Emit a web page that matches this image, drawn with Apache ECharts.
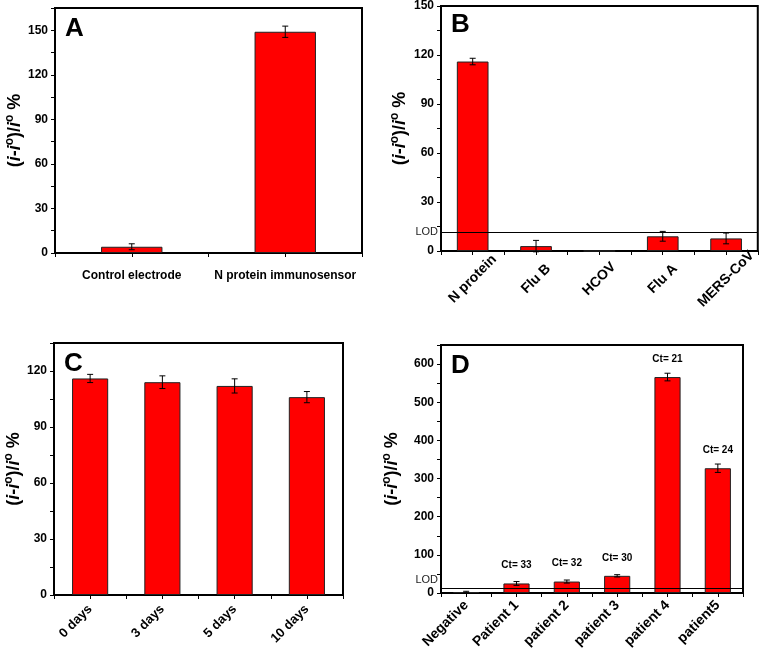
<!DOCTYPE html>
<html>
<head>
<meta charset="utf-8">
<script src="https://cdn.jsdelivr.net/npm/echarts@6/dist/echarts.min.js"></script>
<style>
html,body{margin:0;padding:0;background:#fff;}
#main{width:759px;height:652px;}
</style>
</head>
<body>
<div id="main"></div>
<script>
// panel A
var catA = ['Control electrode', 'N protein immunosensor'];
var valA = [4.2, 149];
var errA = [2, 3.8];
// panel B
var catB = ['N protein', 'Flu B', 'HCOV', 'Flu A', 'MERS-CoV'];
var valB = [116, 3, 0, 9, 7.7];
var errB = [2, 3.5, 0, 3, 3.3];
// panel C
var catC = ['0 days', '3 days', '5 days', '10 days'];
var valC = [116, 114, 112, 106];
var errC = [2.2, 3.4, 3.8, 3];
// panel D
var catD = ['Negative', 'Patient 1', 'patient 2', 'patient 3', 'patient 4', 'patient5'];
var valD = [2.5, 25, 30, 45, 566, 327];
var errD = [2, 5, 4, 3, 10, 11];
var ctD = ['', 'Ct= 33', 'Ct= 32', 'Ct= 30', 'Ct= 21', 'Ct= 24'];
var lodLevel = 11.5;

var FONT = '"Liberation Sans", Arial, sans-serif';
var chart = echarts.init(document.getElementById('main'));

var grids = [
	{left: 55, top: 8, width: 307, height: 245},
	{left: 441, top: 4, width: 317, height: 247},
	{left: 54, top: 343, width: 289, height: 252},
	{left: 441, top: 345, width: 302, height: 248}
];
// layout per panel
var panels = [
	{cats: catA, vals: valA, errs: errA, max: 165, step: 15, lab: 30, bw: '40%', gap: 24, letter: 'A',
		xl: {rotate: 0, margin: 17, fontSize: 12}},
	{cats: catB, vals: valB, errs: errB, max: 150, step: 15, lab: 30, bw: '50%', gap: 30, letter: 'B',
		xl: {rotate: 45, margin: 28, fontSize: 14, align: 'center', verticalAlign: 'middle'}, lod: 'LOD'},
	{cats: catC, vals: valC, errs: errC, max: 135, step: 15, lab: 30, bw: '50%', gap: 18, letter: 'C',
		xl: {rotate: 45, margin: 12, fontSize: 13}},
	{cats: catD, vals: valD, errs: errD, max: 650, step: 50, lab: 100, bw: '52%', gap: 38, letter: 'D',
		xl: {rotate: 45, margin: 10, fontSize: 14}, lod: 'LOD\n'}
];

var yName = '{p|(}{i|i}{p|-}{i|i}{s|o}{p|)/}{i|i}{s|o}{p| %}';
var yRich = {
	p: {fontFamily: FONT, fontWeight: 'bold', fontSize: 18, lineHeight: 22, color: '#000'},
	i: {fontFamily: FONT, fontWeight: 'bold', fontStyle: 'italic', fontSize: 18, lineHeight: 22, color: '#000'},
	s: {fontFamily: FONT, fontWeight: 'bold', fontSize: 12, lineHeight: 5, color: '#000', verticalAlign: 'top'}
};

var xAxes = [], yAxes = [], series = [], graphics = [];

function errRender(params, api) {
	var i = api.value(0), lo = api.value(1), hi = api.value(2);
	if (hi - lo <= 0) return null;
	var p1 = api.coord([i, lo]), p2 = api.coord([i, hi]);
	var st = {stroke: '#000', lineWidth: 1};
	return {
		type: 'group',
		children: [
			{type: 'line', shape: {x1: p1[0], y1: p1[1], x2: p2[0], y2: p2[1]}, style: st},
			{type: 'line', shape: {x1: p1[0] - 3, y1: p1[1], x2: p1[0] + 3, y2: p1[1]}, style: st},
			{type: 'line', shape: {x1: p2[0] - 3, y1: p2[1], x2: p2[0] + 3, y2: p2[1]}, style: st}
		]
	};
}

panels.forEach(function(pn, k) {
	var g = grids[k];
	g.show = true;
	g.borderColor = '#000';
	g.borderWidth = 2;
	g.backgroundColor = '#fff';

	var xl = {color: '#000', fontFamily: FONT, fontWeight: 'bold', interval: 0};
	for (var key in pn.xl) xl[key] = pn.xl[key];
	xAxes.push({
		type: 'category', gridIndex: k, data: pn.cats,
		axisLine: {lineStyle: {color: '#000', width: 2}},
		axisTick: {show: false},
		axisLabel: xl
	});
	yAxes.push({
		type: 'value', gridIndex: k, min: 0, max: pn.max, interval: pn.step,
		name: yName, nameLocation: 'middle', nameGap: pn.gap, nameRotate: 90,
		nameTextStyle: {rich: yRich},
		splitLine: {show: false},
		axisLine: {show: true, lineStyle: {color: '#000', width: 2}},
		axisTick: {show: true, length: 4, lineStyle: {color: '#000'}},
		axisLabel: {
			color: '#000', fontFamily: FONT, fontWeight: 'bold', fontSize: 12, margin: 7,
			formatter: function(v) { return v % pn.lab === 0 ? v : ''; }
		}
	});

	var lod = null;
	if (pn.lod) {
		lod = {
			silent: true, symbol: 'none',
			lineStyle: {color: '#000', width: 1, type: 'solid'},
			label: {show: true, position: 'start', formatter: pn.lod, color: '#222',
				fontFamily: FONT, fontSize: 11, lineHeight: 17, distance: 3},
			data: [{yAxis: lodLevel}]
		};
	}

	series.push({
		type: 'bar', xAxisIndex: k, yAxisIndex: k, barWidth: pn.bw,
		data: pn.vals,
		itemStyle: {color: '#ff0000', borderColor: '#222', borderWidth: 1},
		label: k === 3 ? {
			show: true, position: 'top', distance: 13, color: '#000',
			fontFamily: FONT, fontWeight: 'bold', fontSize: 10,
			formatter: function(p) { return ctD[p.dataIndex]; }
		} : {show: false},
		markLine: lod,
		z: 2
	});
	series.push({
		type: 'custom', xAxisIndex: k, yAxisIndex: k,
		renderItem: errRender,
		data: pn.vals.map(function(v, i) { return [i, v - pn.errs[i], v + pn.errs[i]]; }),
		z: 5
	});

	graphics.push({
		type: 'text', left: g.left + 10, top: g.top + 8,
		style: {text: pn.letter, fontFamily: FONT, fontWeight: 'bold', fontSize: 26, fill: '#000'}
	});
});

// half-category tick marks along each x axis
panels.forEach(function(pn, k) {
	xAxes.push({
		type: 'value', gridIndex: k, min: 0, max: pn.cats.length * 2, interval: 1,
		position: 'bottom',
		axisLine: {show: false},
		axisTick: {show: true, length: 4, lineStyle: {color: '#000'}},
		axisLabel: {show: false},
		splitLine: {show: false}
	});
});

chart.setOption({
	animation: false,
	grid: grids,
	xAxis: xAxes,
	yAxis: yAxes,
	series: series,
	graphic: graphics
});
</script>
</body>
</html>
